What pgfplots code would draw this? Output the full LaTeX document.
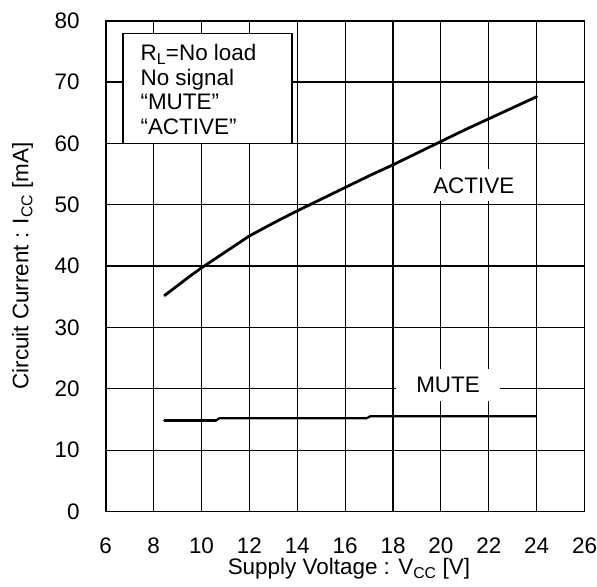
\documentclass[border=0pt]{standalone}
\usepackage{pgfplots}
\pgfplotsset{compat=1.18}
\usepackage{fontspec}
\setmainfont{Liberation Sans}
\newcommand\lab{\fontsize{22.5}{24.8}\selectfont}
\begin{document}
\lab
\begin{tikzpicture}
\begin{axis}[
  scale only axis,
  width=480pt, height=492pt,
  xmin=6, xmax=26, ymin=0, ymax=80,
  xtick={6,8,...,26}, ytick={0,10,...,80},
  xmajorgrids, ymajorgrids,
  major grid style={black, line width=1.1pt},
  axis line style={black, line width=1.8pt},
  tick style={draw=none},
  tick label style={font=\lab, inner sep=0pt},
  /pgf/number format/assume math mode=true,
  xticklabel style={anchor=center, yshift=-34pt},
  yticklabel style={anchor=east, xshift=-26pt},
  xlabel={Supply Voltage : V\textsubscript{CC} [V]},
  ylabel={Circuit Current : I\textsubscript{CC} [mA]},
  label style={font=\lab},
  xlabel style={at={(axis description cs:0.508,-0.1287)}, anchor=base},
  ylabel style={at={(axis description cs:-0.1615,0.5)}, anchor=base, rotate=0},
  clip=false,
]
% ACTIVE
\addplot[black, line width=2.8pt, line join=round, line cap=round] coordinates {
  (8.46,35.2) (9.0,36.8) (9.5,38.3) (10.0,39.7) (10.5,41.0) (11.0,42.3)
  (12.0,44.9) (13.0,47.0) (14.0,49.0) (15.0,50.9) (16.0,52.8) (17.0,54.7)
  (18.0,56.5) (19.0,58.4) (20.0,60.3) (21.0,62.2) (22.0,64.0) (23.0,65.8)
  (24.0,67.6)
};
% MUTE
\addplot[black, line width=3pt, line cap=round] coordinates {
  (8.46,14.8) (10.6,14.8)
};
\addplot[black, line width=2.2pt] coordinates {
  (10.6,14.8) (10.75,15.2) (16.9,15.2) (17.05,15.5) (24.0,15.5)
};
\node[fill=white, inner xsep=3pt, inner ysep=8pt] at (axis cs:21.375,53.15) {ACTIVE};
\node[fill=white, inner xsep=20pt, inner ysep=8pt] at (axis cs:20.3,20.6) {MUTE};
\draw[black, line width=1.4pt, fill=white] (axis cs:6.72,59.95) rectangle (axis cs:13.78,77.95);
\node[anchor=north west, align=left, inner sep=0pt, font=\lab] at (axis cs:7.446,76.2)
  {R\textsubscript{L}=No load\\No signal\\``MUTE''\\``ACTIVE''};
\path (rel axis cs:0,0) ++(-106pt,-68.3pt) rectangle ++(597pt,581pt);
\end{axis}
\end{tikzpicture}
\end{document}
